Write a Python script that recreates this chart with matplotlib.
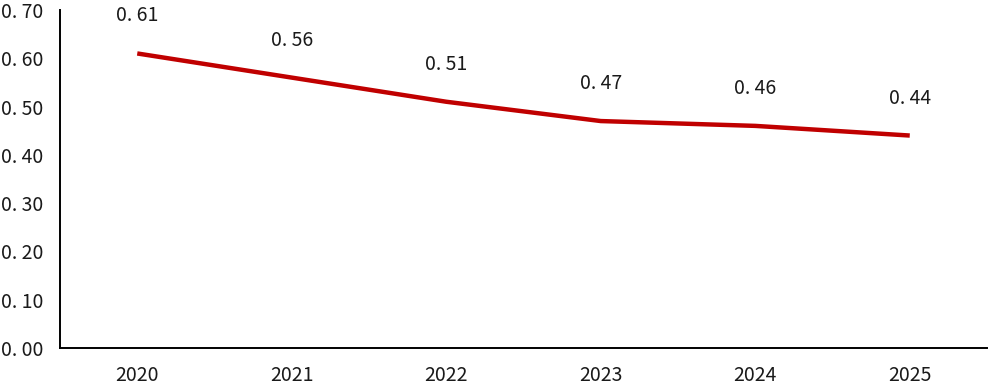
import matplotlib
matplotlib.use("Agg")
import matplotlib.pyplot as plt
import numpy as np

years = ["2020", "2021", "2022", "2023", "2024", "2025"]
values = [0.61, 0.56, 0.51, 0.47, 0.46, 0.44]
yticks = [0.0, 0.1, 0.2, 0.3, 0.4, 0.5, 0.6, 0.7]

plt.rcParams['font.family'] = ['Noto Sans CJK SC', 'DejaVu Sans']

fig = plt.figure(figsize=(9.95, 3.9), dpi=100)
ax = fig.add_axes([60/995, 42/390, 927/995, 338/390])

x = np.arange(len(years))
ax.plot(x, values, color="#C00000", lw=3.2, solid_capstyle="butt")

for xi, v in zip(x, values):
    ax.annotate(f"{v:.2f}".replace(".", ". "), (xi, v), xytext=(0, 27), textcoords="offset points",
                ha="center", va="center", fontsize=14, color="#1a1a1a")

ax.set_xlim(-0.5, len(years) - 0.5)
ax.set_ylim(0, 0.7)
ax.set_xticks(x)
ax.set_xticklabels(years)
ax.set_yticks(yticks)
ax.set_yticklabels([f"{t:.2f}".replace(".", ". ") for t in yticks])
ax.tick_params(axis="both", length=0, labelsize=14, colors="#1a1a1a")
ax.tick_params(axis="y", pad=12)
ax.tick_params(axis="x", pad=12)
for s in ["top", "right"]:
    ax.spines[s].set_visible(False)
for s in ["left", "bottom"]:
    ax.spines[s].set_linewidth(1.4)
    ax.spines[s].set_color("black")

fig.savefig("out.png", dpi=100)
